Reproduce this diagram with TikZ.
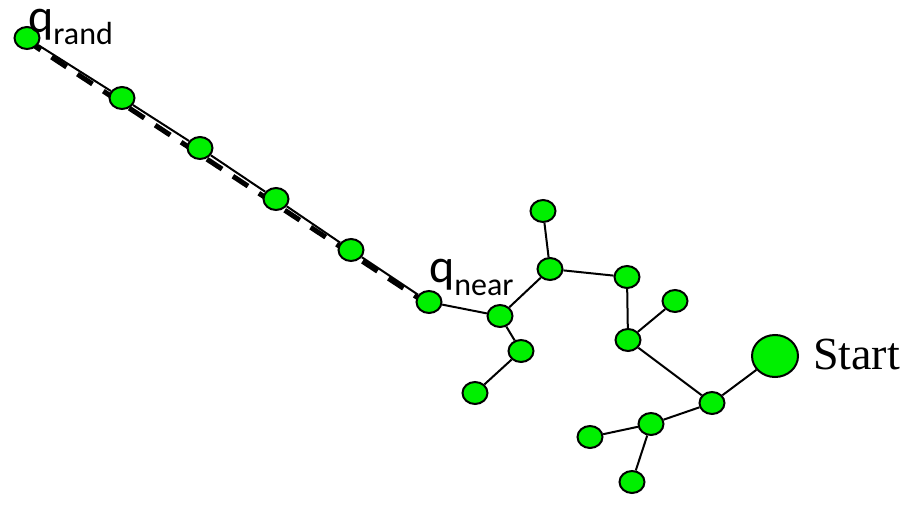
\documentclass[tikz,border=0pt]{standalone}
\usepackage{fontspec}
\setmainfont{Liberation Serif}
\newfontfamily\labelfont{Carlito}
\usetikzlibrary{shapes.geometric,calc,backgrounds}
\definecolor{treegreen}{RGB}{0,240,0}
\tikzset{
  vtx/.style={ellipse, draw=black, line width=2pt, fill=treegreen,
    minimum width=25pt, minimum height=22pt, inner sep=0pt},
  startvtx/.style={vtx, minimum width=46pt, minimum height=42pt},
  edge/.style={line width=2pt, draw=black},
  extend/.style={line width=5pt, draw=black, dash pattern=on 18pt off 13pt},
  lbl/.style={inner sep=0pt, anchor=base west}
}
\begin{document}
\begin{tikzpicture}[x=1pt, y=-1pt]
\useasboundingbox (0,0) rectangle (913,505);

% tree vertices
\node[vtx] (qrand) at (27,38) {};
\node[vtx] (p1) at (122,98) {};
\node[vtx] (p2) at (200,148) {};
\node[vtx] (p3) at (276,199) {};
\node[vtx] (p4) at (351,250) {};
\node[vtx] (qnear) at (429,302) {};
\node[vtx] (a) at (500,316) {};
\node[vtx] (b) at (550,269) {};
\node[vtx] (btop) at (543,211) {};
\node[vtx] (c) at (627,277) {};
\node[vtx] (d) at (628,340) {};
\node[vtx] (dr) at (675,301) {};
\node[vtx] (e) at (521,351) {};
\node[vtx] (f) at (475,393) {};
\node[vtx] (g) at (712,403) {};
\node[vtx] (h) at (651,424) {};
\node[vtx] (i) at (590,437) {};
\node[vtx] (j) at (632,482) {};
\node[startvtx] (start) at (775,356) {};

% edges behind the vertices
\begin{scope}[on background layer]
  \draw[edge] (qrand) -- (p1) -- (p2) -- (p3) -- (p4) -- (qnear);
  \draw[extend]
    ($(qrand.center)!2.5pt!-90:(qnear.center)$) coordinate (dstart)
    -- ($(qnear.center)!2.5pt!90:(qrand.center)$) coordinate (dend);
  \draw[edge] (qnear) -- (a);
  \draw[edge] (a) -- (b);
  \draw[edge] (b) -- (btop);
  \draw[edge] (b) -- (c);
  \draw[edge] (c) -- (d);
  \draw[edge] (d) -- (dr);
  \draw[edge] (d) -- (g);
  \draw[edge] (g) -- (start);
  \draw[edge] (g) -- (h);
  \draw[edge] (h) -- (i);
  \draw[edge] (h) -- (j);
  \draw[edge] (a) -- (e);
  \draw[edge] (e) -- (f);
\end{scope}

% labels
\node[lbl] (lrand) at (28,33) {\labelfont\fontsize{48}{48}\selectfont q\raisebox{-12pt}{\fontsize{32}{32}\selectfont rand}};
\node[lbl] (lnear) at (429,283) {\labelfont\fontsize{48}{48}\selectfont q\raisebox{-13pt}{\fontsize{32}{32}\selectfont near}};
\node[lbl] (lstart) at (813,369) {\fontsize{46}{46}\selectfont Start};
\end{tikzpicture}
\end{document}
